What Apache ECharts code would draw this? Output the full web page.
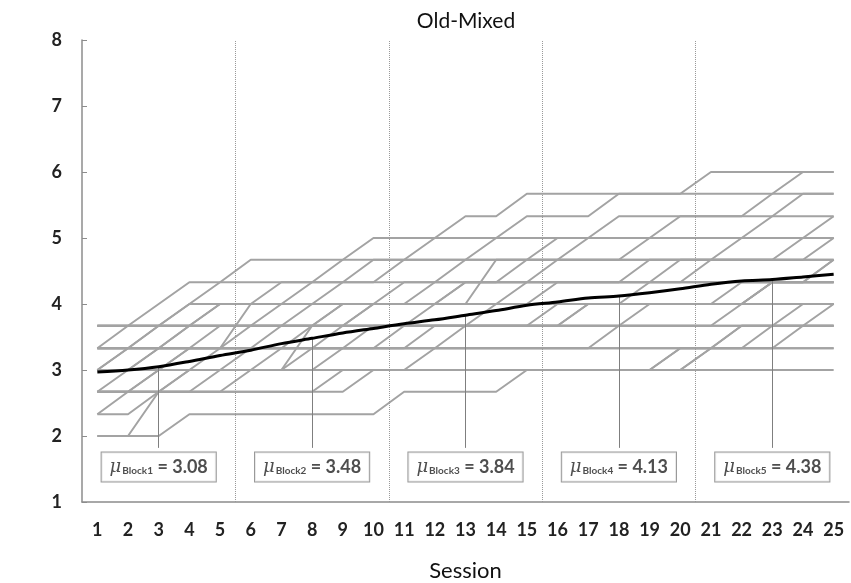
<!DOCTYPE html>
<html>
<head>
<meta charset="utf-8">
<script src="https://cdn.jsdelivr.net/npm/echarts@6/dist/echarts.min.js"></script>
<style>html,body{margin:0;padding:0;background:#fff}#chart{width:851px;height:583px}</style>
</head>
<body>
<div id="chart"></div>
<script>
var sessions=[1,2,3,4,5,6,7,8,9,10,11,12,13,14,15,16,17,18,19,20,21,22,23,24,25];
var meanLine=[2.97,3.0,3.05,3.13,3.22,3.30,3.40,3.48,3.56,3.63,3.70,3.76,3.83,3.90,3.98,4.03,4.09,4.12,4.17,4.23,4.30,4.35,4.37,4.41,4.45];
var blockNames=['Block1','Block2','Block3','Block4','Block5'];
var blockMeans=['3.08','3.48','3.84','4.13','4.38'];
var blockAt=[3,8,13,18,23];
var blockBreaks=[5.5,10.5,15.5,20.5];

// individual trajectories (gray)
var subj01=[2,2,2,2.33,2.33,2.33,2.33,2.33,2.33,2.33,2.67,2.67,2.67,2.67,3,3,3,3,3,3,3,3,3,3,3];
var subj02=[2,2,2.67,2.67,2.67,2.67,2.67,2.67,2.67,3,3,3,3,3,3,3,3,3,3,3,3.33,3.33,3.33,3.33,3.33];
var subj03=[2.33,2.33,2.67,2.67,2.67,3,3,3,3,3,3,3,3,3,3,3,3,3,3,3.33,3.33,3.33,3.33,3.33,3.33];
var subj04=[2.67,2.67,2.67,3,3,3,3,3,3.33,3.33,3.33,3.33,3.33,3.33,3.33,3.33,3.33,3.33,3.33,3.33,3.33,3.33,3.67,3.67,3.67];
var subj05=[2.67,2.67,3,3,3,3,3,3.33,3.33,3.33,3.33,3.33,3.33,3.33,3.33,3.33,3.33,3.67,3.67,3.67,3.67,3.67,3.67,3.67,3.67];
var subj06=[2.67,3,3,3,3.33,3.33,3.33,3.33,3.33,3.67,3.67,3.67,3.67,3.67,3.67,3.67,3.67,3.67,3.67,3.67,3.67,4,4,4,4];
var subj07=[3,3,3,3,3,3,3,3.67,3.67,3.67,3.67,3.67,3.67,3.67,3.67,3.67,3.67,3.67,3.67,3.67,3.67,3.67,3.67,3.67,4];
var subj08=[3,3,3.33,3.33,3.33,3.33,3.67,3.67,3.67,3.67,3.67,3.67,3.67,4,4,4,4,4,4,4,4,4,4.33,4.33,4.33];
var subj09=[3,3.33,3.33,3.33,3.33,3.33,3.33,3.67,3.67,3.67,3.67,4,4,4,4,4,4,4,4.33,4.33,4.33,4.33,4.33,4.33,4.33];
var subj10=[3,3,3,3.33,3.33,3.67,3.67,3.67,3.67,4,4,4,4,4,4,4.33,4.33,4.33,4.33,4.33,4.33,4.33,4.33,4.33,4.67];
var subj11=[3.33,3.33,3.67,3.67,3.67,3.67,4,4,4,4,4,4,4.33,4.33,4.33,4.33,4.33,4.33,4.33,4.67,4.67,4.67,4.67,4.67,4.67];
var subj12=[3.33,3.33,3.33,3.67,3.67,3.67,3.67,4,4,4,4.33,4.33,4.33,4.33,4.33,4.67,4.67,4.67,4.67,4.67,4.67,5,5,5,5];
var subj13=[3.33,3.67,3.67,3.67,4,4,4,4,4.33,4.33,4.33,4.33,4.67,4.67,4.67,4.67,5,5,5,5,5,5,5.33,5.33,5.33];
var subj14=[3.67,3.67,3.67,4,4,4,4.33,4.33,4.33,4.67,4.67,4.67,4.67,5,5,5,5,5.33,5.33,5.33,5.33,5.33,5.33,5.67,5.67];
var subj15=[3.67,3.67,3.67,4,4.33,4.33,4.33,4.33,4.67,4.67,4.67,5,5,5,5.33,5.33,5.33,5.67,5.67,5.67,5.67,5.67,5.67,6,6];
var subj16=[3.67,3.67,4,4.33,4.33,4.67,4.67,4.67,4.67,5,5,5,5.33,5.33,5.67,5.67,5.67,5.67,5.67,5.67,6,6,6,6,6];
var subj17=[3,3,3.33,3.33,3.33,3.33,3.33,3.33,3.67,3.67,3.67,3.67,3.67,3.67,3.67,3.67,3.67,3.67,4,4,4,4,4,4,4];
var subj18=[2.67,2.67,2.67,2.67,3,3,3,3,3,3,3,3.33,3.33,3.33,3.33,3.33,3.33,3.33,3.33,3.33,3.33,3.67,3.67,3.67,3.67];
var subj19=[3.33,3.33,3.33,3.33,3.67,3.67,3.67,3.67,4,4,4,4,4,4.67,4.67,4.67,4.67,4.67,4.67,4.67,4.67,4.67,4.67,4.67,5];
var subj20=[3,3,3,3,3,3,3.33,3.33,3.33,3.33,3.33,3.33,3.67,3.67,3.67,3.67,4,4,4,4,4,4,4.33,4.33,4.33];
var subj21=[2.67,2.67,2.67,3,3,3,3,3,3,3,3,3,3,3,3,3,3,3,3,3.33,3.33,3.67,3.67,4,4];
var subj22=[2.33,2.67,2.67,2.67,2.67,2.67,2.67,2.67,3,3,3,3,3,3,3,3,3,3,3,3,3.33,3.33,3.33,3.67,3.67];
var subj23=[3,3,3,3.33,3.33,3.33,3.33,3.33,3.33,3.33,3.67,3.67,3.67,3.67,3.67,4,4,4,4,4,4,4,4.33,4.33,4.67];
var subj24=[3.33,3.33,3.33,3.33,3.33,4,4,4,4,4,4,4.33,4.33,4.33,4.67,4.67,4.67,4.67,5,5,5,5,5,5,5.33];
var subj25=[3.67,3.67,3.67,3.67,4,4,4,4.33,4.33,4.33,4.67,4.67,4.67,4.67,4.67,5,5,5,5,5.33,5.33,5.33,5.67,5.67,5.67];
var subj26=[2.67,2.67,3,3,3,3.33,3.33,3.33,3.33,3.33,3.33,3.67,3.67,3.67,3.67,3.67,4,4,4,4,4,4.33,4.33,4.33,4.33];
var subj27=[3,3.33,3.33,3.67,3.67,3.67,3.67,3.67,4,4,4,4,4.33,4.33,4.33,4.33,4.33,4.33,4.67,4.67,4.67,4.67,4.67,5,5];
var subj28=[3.33,3.33,3.67,3.67,3.67,3.67,3.67,3.67,3.67,4,4,4,4,4,4.33,4.33,4.33,4.33,4.33,4.33,4.67,4.67,4.67,4.67,4.67];
var subjects=[subj01,subj02,subj03,subj04,subj05,subj06,subj07,subj08,subj09,subj10,
    subj11,subj12,subj13,subj14,subj15,subj16,subj17,subj18,subj19,subj20,
    subj21,subj22,subj23,subj24,subj25,subj26,subj27,subj28];

function pairs(arr){
    return arr.map(function(v,i){return [sessions[i],v];});
}

var series=[];
subjects.forEach(function(s,k){
    var ser={type:'line',data:pairs(s),symbol:'none',silent:true,z:2,
        lineStyle:{color:'#a3a3a3',width:2}};
    if(k==0){
        ser.markLine={silent:true,symbol:'none',label:{show:false},
            lineStyle:{color:'#999',width:1,type:'dotted'},
            data:blockBreaks.map(function(b){return {xAxis:b};})};
    }
    series.push(ser);
});
series.push({type:'line',data:pairs(meanLine),symbol:'none',smooth:0.3,silent:true,z:5,
    lineStyle:{color:'#000',width:3},
    markLine:{silent:true,symbol:'none',label:{show:false},
        lineStyle:{color:'#7f7f7f',width:1,type:'solid'},
        data:blockAt.map(function(s){return [{coord:[s,meanLine[s-1]]},{coord:[s,1.82]}];})}
});
series.push({type:'scatter',symbolSize:1,silent:true,z:10,itemStyle:{color:'rgba(0,0,0,0)'},
    data:blockAt.map(function(s,i){
        return {value:[s,1.53],label:{formatter:'{mu|\u03bc}{sub|'+blockNames[i]+'}{eq| = '+blockMeans[i]+'}'}};
    }),
    label:{show:true,position:'inside',backgroundColor:'#fff',borderColor:'#7f7f7f',borderWidth:1,
        padding:[6,8,5,8],
        rich:{
            mu:{fontFamily:'DejaVu Serif',fontStyle:'italic',fontSize:18,color:'#222'},
            sub:{fontFamily:'Lato',fontWeight:'bold',fontSize:10,color:'#222',padding:[7,0,0,1]},
            eq:{fontFamily:'Lato',fontWeight:'bold',fontSize:18,color:'#222'}
        }}
});

var chart=echarts.init(document.getElementById('chart'));
chart.setOption({
    animation:false,
    textStyle:{fontFamily:'Lato'},
    title:{text:'Old-Mixed',left:461,top:6,textAlign:'center',
        textStyle:{fontFamily:'Lato',fontSize:21,fontWeight:'normal',color:'#111'}},
    grid:{left:82,right:2,top:40,bottom:81,outerBoundsMode:'none',containLabel:false},
    xAxis:{type:'value',min:0.5,max:25.5,
        name:'Session',nameLocation:'middle',nameGap:58,
        nameTextStyle:{fontFamily:'Lato',fontSize:22,color:'#111'},
        axisLine:{show:true,lineStyle:{color:'#8c8c8c',width:1.5}},
        axisTick:{show:false},splitLine:{show:false},
        axisLabel:{customValues:sessions,fontSize:18,fontWeight:'bold',color:'#222',margin:19}},
    yAxis:{type:'value',min:1,max:8,interval:1,
        axisLine:{show:true,lineStyle:{color:'#8c8c8c',width:1.5}},
        axisTick:{show:true,inside:true,length:5,lineStyle:{color:'#8c8c8c'}},
        splitLine:{show:false},
        axisLabel:{fontSize:18,fontWeight:'bold',color:'#222',margin:20}},
    series:series
});
</script>
</body>
</html>
